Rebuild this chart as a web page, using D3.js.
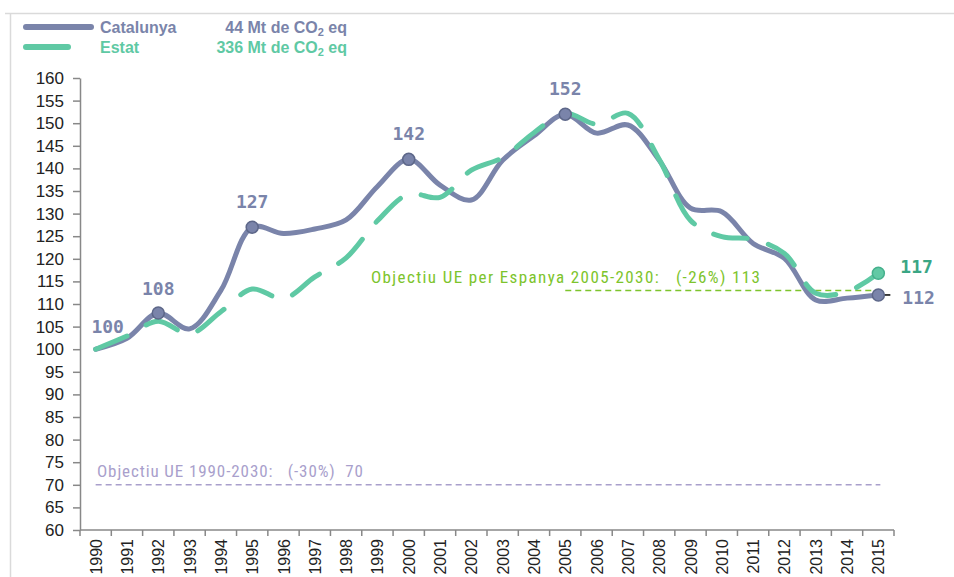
<!DOCTYPE html>
<html>
<head>
<meta charset="utf-8">
<script src="https://cdn.jsdelivr.net/npm/d3@7"></script>
<style>
  body { margin: 0; background: #fff; }
  svg { font-family: "Liberation Sans", Arial, sans-serif; }
  .narrow { font-family: "Liberation Sans Narrow", "Roboto Condensed", "Liberation Sans", sans-serif; }
</style>
</head>
<body>
<div id="chart"></div>
<script>
// dades
const years = ["1990","1991","1992","1993","1994","1995","1996","1997","1998","1999","2000","2001","2002",
  "2003","2004","2005","2006","2007","2008","2009","2010","2011","2012","2013","2014","2015"];
const catalunya = [100, 102.4, 108, 104.5, 113, 127, 125.6, 126.6, 128.6, 136, 142, 136.3, 133, 141.8, 147.2, 152,
  147.8, 149.6, 141.8, 131.2, 130.4, 123.4, 120.1, 110.9, 111.3, 112];
const estat = [100, 102.9, 106.2, 103.4, 108.3, 113.3, 111.2, 116, 120.2, 128.4, 134.3, 133.6, 139.6, 142.4, 147.9, 152.2,
  149.8, 152.2, 142, 128.5, 124.9, 124.3, 121.2, 112.4, 112.7, 116.8];
const yTicks = d3.range(60, 161, 5);
const labelYears = ["1992", "1995", "2000", "2005"];
const legendItems = [
  { name: "Catalunya", total: "44 Mt de CO", color: "#7a84aa" },
  { name: "Estat", total: "336 Mt de CO", color: "#5fc9a4" }
];

const W = 954, H = 577;
const margin = {top: 78, right: 60, bottom: 47, left: 80};
const width = 894 - margin.left;
const height = H - margin.top - margin.bottom;

const svg = d3.select("#chart").append("svg")
  .attr("width", W).attr("height", H);

// marc gris
svg.append("path")
  .attr("d", `M5,13.5 H${W} M10.5,13 V${H}`)
  .attr("stroke", "#dadada").attr("stroke-width", 1.5).attr("fill", "none");

const g = svg.append("g").attr("transform", `translate(${margin.left},${margin.top})`);

const x = d3.scaleBand().domain(years).range([0, width]);
const y = d3.scaleLinear().domain([60, 160]).range([height, 0]);
const cx = d => x(d) + x.bandwidth() / 2;

// eix y
const yAxis = g.append("g")
  .call(d3.axisLeft(y).tickValues(yTicks).tickSize(7).tickSizeOuter(0).tickPadding(9));
yAxis.select(".domain").attr("stroke", "#888").attr("stroke-width", 1.5);
yAxis.selectAll(".tick line").attr("stroke", "#888").attr("stroke-width", 1.5);
yAxis.selectAll("text").attr("font-size", 17).attr("fill", "#222")
  .attr("font-family", "Liberation Sans, sans-serif");

// eix x (ticks entre categories)
const xAxisG = g.append("g").attr("transform", `translate(0,${height})`);
xAxisG.append("line").attr("x1", 0).attr("x2", width).attr("stroke", "#888").attr("stroke-width", 1.5);
xAxisG.selectAll(".tk").data(years.concat(["end"])).enter().append("line")
  .attr("x1", (d, i) => i < years.length ? x(d) : width)
  .attr("x2", (d, i) => i < years.length ? x(d) : width)
  .attr("y1", 0).attr("y2", 6)
  .attr("stroke", "#888").attr("stroke-width", 1.5);
xAxisG.selectAll(".lbl").data(years).enter().append("text")
  .attr("transform", d => `translate(${cx(d) + 6},${9}) rotate(-90)`)
  .attr("text-anchor", "end")
  .attr("font-size", 16).attr("fill", "#222")
  .text(d => d);

// objectius
const targets = [
  { v: 70, x0: "1990", x1: "2015", color: "#a99fcc", text: "Objectiu UE 1990-2030:   (-30%)  70", tx: 97, ty: 477, len: 266, fs: 17 },
  { v: 113, x0: "2005", x1: "2015", color: "#7dc42c", text: "Objectiu UE per Espanya 2005-2030:   (-26%) 113", tx: 371, ty: 283, len: 389, fs: 17 }
];
g.selectAll(".target").data(targets).enter().append("line")
  .attr("x1", d => cx(d.x0))
  .attr("x2", d => cx(d.x1) + 2)
  .attr("y1", d => y(d.v)).attr("y2", d => y(d.v))
  .attr("stroke", d => d.color).attr("stroke-width", 1.5)
  .attr("stroke-dasharray", "6,4");
svg.selectAll(".ttext").data(targets).enter().append("text")
  .attr("class", "narrow")
  .attr("x", d => d.tx).attr("y", d => d.ty)
  .attr("font-size", d => d.fs).attr("fill", d => d.color)
  .attr("textLength", d => d.len).attr("lengthAdjust", "spacing")
  .style("white-space", "pre")
  .text(d => d.text);

// línies
const line = d3.line().x((d, i) => cx(years[i])).y(d => y(d)).curve(d3.curveCatmullRom.alpha(0.5));

g.append("path").datum(catalunya)
  .attr("d", line).attr("fill", "none")
  .attr("stroke", legendItems[0].color).attr("stroke-width", 5)
  .attr("stroke-linecap", "round").attr("stroke-linejoin", "round");

g.append("path").datum(estat)
  .attr("d", line).attr("fill", "none")
  .attr("stroke", legendItems[1].color).attr("stroke-width", 5)
  .attr("stroke-dasharray", "34,22")
  .attr("stroke-linecap", "round");

// línia guia 2015
g.append("line")
  .attr("x1", cx("2015")).attr("x2", cx("2015") + 12)
  .attr("y1", y(112)).attr("y2", y(112))
  .attr("stroke", "#000").attr("stroke-width", 1.5);

// marcadors
const marks = labelYears.concat(["2015"]).map(yr => ({ yr, v: catalunya[years.indexOf(yr)] }));
g.selectAll(".mk").data(marks).enter().append("circle")
  .attr("cx", d => cx(d.yr)).attr("cy", d => y(d.v)).attr("r", 6)
  .attr("fill", "#7a84aa").attr("stroke", "#5d6789").attr("stroke-width", 1.5);
g.append("circle")
  .attr("cx", cx("2015")).attr("cy", y(estat[25])).attr("r", 6)
  .attr("fill", "#62c9a5").attr("stroke", "#45b08c").attr("stroke-width", 1.5);

// etiquetes
const labels = [
  { text: "100", x: cx("1990") + 12, y: y(100) - 16, color: "#7a84aa", anchor: "middle" },
  { text: "108", x: cx("1992"), y: y(108) - 18, color: "#7a84aa", anchor: "middle" },
  { text: "127", x: cx("1995"), y: y(127) - 19, color: "#7a84aa", anchor: "middle" },
  { text: "142", x: cx("2000"), y: y(142) - 19, color: "#7a84aa", anchor: "middle" },
  { text: "152", x: cx("2005"), y: y(152) - 19, color: "#7a84aa", anchor: "middle" },
  { text: "117", x: cx("2015") + 22, y: y(117) + 1, color: "#3aa684", anchor: "start" },
  { text: "112", x: cx("2015") + 24, y: y(112) + 9, color: "#7a84aa", anchor: "start" }
];
g.selectAll(".dl").data(labels).enter().append("text")
  .attr("x", d => d.x).attr("y", d => d.y)
  .attr("text-anchor", d => d.anchor)
  .attr("font-family", "DejaVu Sans Mono, monospace")
  .attr("font-weight", "bold").attr("font-size", 18)
  .attr("fill", d => d.color)
  .text(d => d.text);

// llegenda
const lg = svg.append("g");
legendItems.forEach((d, i) => {
  const ly = 27 + i * 20;
  lg.append("line")
    .attr("x1", 26).attr("x2", i === 0 ? 91 : 68)
    .attr("y1", ly).attr("y2", ly)
    .attr("stroke", d.color).attr("stroke-width", 6).attr("stroke-linecap", "round");
  lg.append("text").attr("x", 100).attr("y", ly + 6)
    .attr("font-size", 16).attr("font-weight", "bold").attr("fill", d.color)
    .text(d.name);
  const t = lg.append("text").attr("x", 347).attr("y", ly + 6).attr("text-anchor", "end")
    .attr("font-size", 16).attr("font-weight", "bold").attr("fill", d.color);
  t.append("tspan").text(d.total);
  t.append("tspan").attr("font-size", 11).attr("dy", 3).text("2");
  t.append("tspan").attr("dy", -3).text(" eq");
});
</script>
</body>
</html>
